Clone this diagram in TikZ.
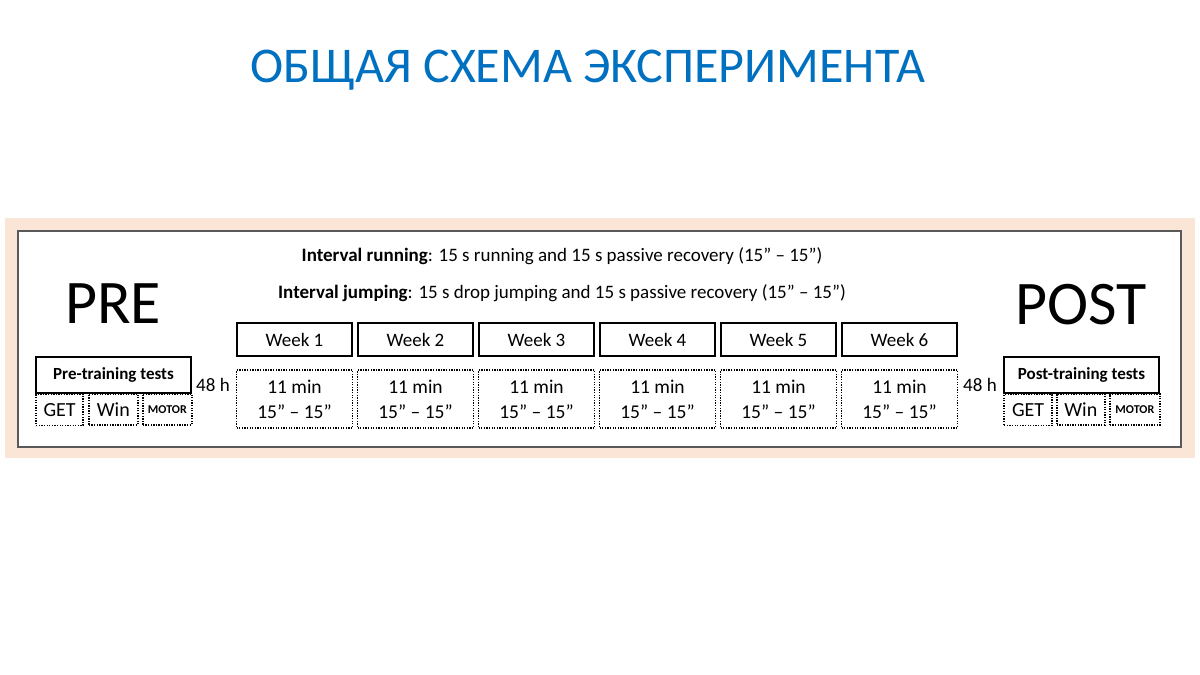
\documentclass[tikz,border=0pt]{standalone}
\usepackage{fontspec}
\setmainfont{Carlito}
\usetikzlibrary{positioning}
\definecolor{titleblue}{HTML}{0070C0}
\definecolor{peach}{HTML}{FBE5D6}
\definecolor{framegray}{HTML}{595959}
\tikzset{
  weekbox/.style={draw, line width=1.6pt, minimum width=115pt, minimum height=33pt, inner sep=0pt, font=\fontsize{19}{22}\selectfont},
  sessionbox/.style={draw, line width=1.7pt, dash pattern=on 1.3pt off 1.3pt, minimum width=116pt, minimum height=58pt, inner sep=0pt, align=center, font=\fontsize{19.5}{25}\selectfont},
  testbox/.style={draw, line width=1.4pt, minimum width=155pt, minimum height=36pt, inner sep=0pt, font=\bfseries\fontsize{17}{19}\selectfont},
  subbox/.style={draw, line width=1.7pt, dash pattern=on 1.3pt off 1.3pt, minimum height=31pt, inner sep=0pt, anchor=north west, font=\fontsize{20}{22}\selectfont},
  bigtext/.style={font=\fontsize{62}{64}\selectfont, inner sep=0pt},
  gaptext/.style={font=\fontsize{19}{21}\selectfont, inner sep=0pt},
  linetext/.style={font=\fontsize{19}{22}\selectfont, inner sep=0pt}
}
\begin{document}
\begin{tikzpicture}[x=1pt, y=-1pt]
    \useasboundingbox (0,0) rectangle (1200,675);
    \fill[white] (0,0) rectangle (1200,675);

    \node[text=titleblue, font=\fontsize{50}{54}\selectfont] (title) at (588,70) {ОБЩАЯ СХЕМА ЭКСПЕРИМЕНТА};

    \fill[peach] (5,218) rectangle (1195,458);
    \draw[framegray, fill=white, line width=1.2pt] (18,231) rectangle (1181,447);

    \node[linetext] (running) at (562,256) {\textbf{Interval running}: 15 s running and 15 s passive recovery (15” – 15”)};
    \node[linetext] (jumping) at (562,293) {\textbf{Interval jumping}: 15 s drop jumping and 15 s passive recovery (15” – 15”)};

    \node[bigtext] (pre) at (113,304) {PRE};
    \node[bigtext] (post) at (1081,305) {POST};

    % pre-training tests
    \node[testbox] (pretests) at (113.5,375) {Pre-training tests};
    \node[subbox, minimum width=47pt] (pget) at (pretests.south west) {GET};
    \node[subbox, minimum width=49pt] (pwin) at (88,393) {Win};
    \node[subbox, minimum width=49pt, font=\bfseries\fontsize{12}{13}\selectfont] (pmotor) at (142,393) {MOTOR};
    \node[gaptext] (pregap) at (213,385) {48 h};

    % weeks
    \foreach \i in {1,...,6} {
        \node[weekbox] (week\i) at (294.5+121*\i-121,339.5) {Week \i};
        \node[sessionbox] (session\i) at (294.5+121*\i-121,399) {11 min\\15” – 15”};
    }

    % post-training tests
    \node[gaptext] (postgap) at (980,385) {48 h};
    \node[testbox] (posttests) at (1081.5,375) {Post-training tests};
    \node[subbox, minimum width=48pt] (qget) at (posttests.south west) {GET};
    \node[subbox, minimum width=48pt] (qwin) at (1056,393) {Win};
    \node[subbox, minimum width=50pt, font=\bfseries\fontsize{12}{13}\selectfont] (qmotor) at (1109,393) {MOTOR};
\end{tikzpicture}
\end{document}
